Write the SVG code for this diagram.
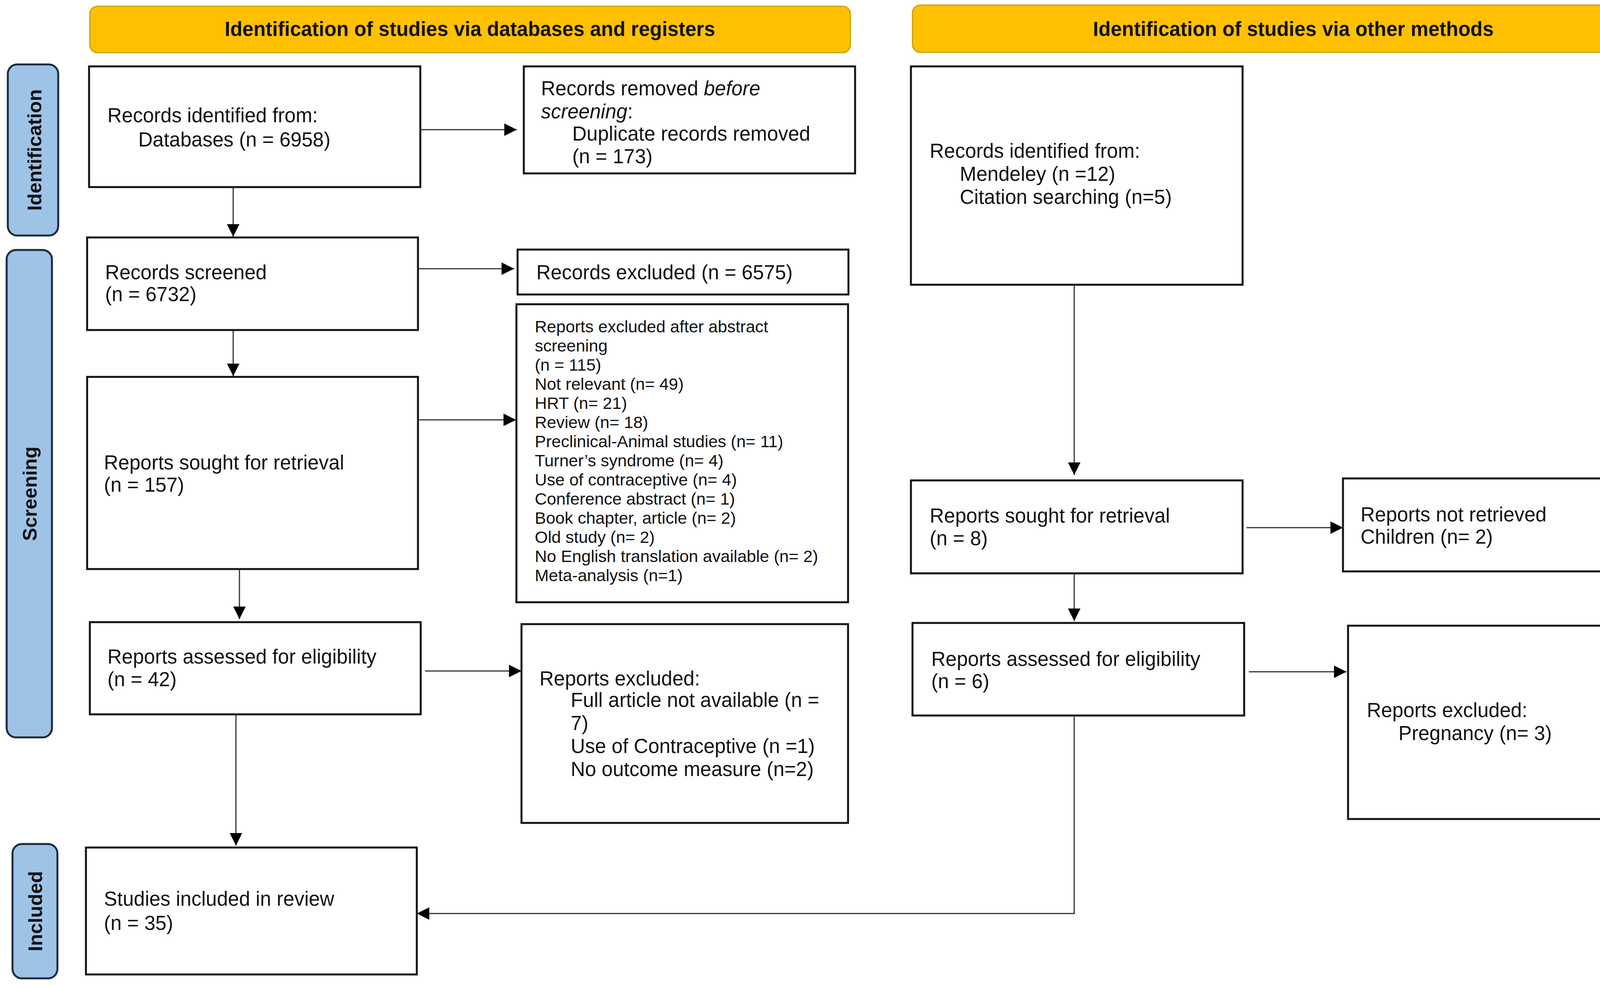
<svg xmlns="http://www.w3.org/2000/svg" width="4317" height="2522" viewBox="0 0 4317 2522">
<style>
.bx{fill:#fff;stroke:#111;stroke-width:5}
.hd{fill:#FFC000;stroke:#C9A000;stroke-width:3}
.sb{fill:#9DC3E6;stroke:#1F2A3A;stroke-width:5}
.t{font-family:"Liberation Sans",Arial,sans-serif;font-size:51px;fill:#111}
.ts{font-family:"Liberation Sans",Arial,sans-serif;font-size:43px;fill:#111}
.th{font-family:"Liberation Sans",Arial,sans-serif;font-size:51px;font-weight:bold;fill:#111;text-anchor:middle}
.tv{font-family:"Liberation Sans",Arial,sans-serif;font-size:50px;font-weight:bold;fill:#111;text-anchor:middle}
.c{fill:none;stroke:#333;stroke-width:3}
</style>
<defs>
<marker id="ah" markerUnits="userSpaceOnUse" markerWidth="32" markerHeight="32" refX="32" refY="16" orient="auto">
<path d="M0,0 L32,16 L0,32 Z" fill="#000"/>
</marker>
</defs>
<rect width="4317" height="2522" fill="#fff"/>

<g id="header-databases">
<rect class="hd" x="230" y="16" width="1947" height="119" rx="20"/>
<text class="th" x="1203" y="92">Identification of studies via databases and registers</text>
</g>
<g id="header-other">
<rect class="hd" x="2336" y="13" width="1951" height="121" rx="20"/>
<text class="th" x="3311" y="92">Identification of studies via other methods</text>
</g>

<g id="side-identification">
<rect class="sb" x="20" y="165" width="129" height="438" rx="24"/>
<text class="tv" transform="translate(88,384) rotate(-90)" y="18">Identification</text>
</g>
<g id="side-screening">
<rect class="sb" x="17" y="640" width="116" height="1248" rx="24"/>
<text class="tv" transform="translate(76,1264) rotate(-90)" y="18">Screening</text>
</g>
<g id="side-included">
<rect class="sb" x="32" y="2161" width="115" height="344" rx="24"/>
<text class="tv" transform="translate(90,2333) rotate(-90)" y="18">Included</text>
</g>

<g id="connectors">
<line class="c" x1="1076" y1="332" x2="1323" y2="332" marker-end="url(#ah)"/>
<line class="c" x1="597" y1="479" x2="597" y2="606" marker-end="url(#ah)"/>
<line class="c" x1="1068" y1="688" x2="1316" y2="688" marker-end="url(#ah)"/>
<line class="c" x1="597" y1="845" x2="597" y2="963" marker-end="url(#ah)"/>
<line class="c" x1="1073" y1="1075" x2="1321" y2="1075" marker-end="url(#ah)"/>
<line class="c" x1="613" y1="1457" x2="613" y2="1585" marker-end="url(#ah)"/>
<line class="c" x1="1088" y1="1718" x2="1335" y2="1718" marker-end="url(#ah)"/>
<line class="c" x1="604" y1="1829" x2="604" y2="2165" marker-end="url(#ah)"/>
<line class="c" x1="2750" y1="729" x2="2750" y2="1216" marker-end="url(#ah)"/>
<line class="c" x1="3191" y1="1351" x2="3438" y2="1351" marker-end="url(#ah)"/>
<line class="c" x1="2750" y1="1468" x2="2750" y2="1590" marker-end="url(#ah)"/>
<line class="c" x1="3197" y1="1720" x2="3447" y2="1720" marker-end="url(#ah)"/>
<path class="c" d="M2750,1832 V2339 H1067" marker-end="url(#ah)"/>
</g>

<g id="records-identified">
<rect class="bx" x="228" y="170" width="848" height="309"/>
<text class="t" x="275" y="313">Records identified from:</text>
<text class="t" x="354" y="375">Databases (n = 6958)</text>
</g>
<g id="records-removed">
<rect class="bx" x="1341" y="170" width="848" height="274"/>
<text class="t" x="1385" y="244">Records removed <tspan font-style="italic">before</tspan></text>
<text class="t" x="1385" y="303"><tspan font-style="italic">screening</tspan>:</text>
<text class="t" x="1465" y="360">Duplicate records removed</text>
<text class="t" x="1465" y="418">(n = 173)</text>
</g>
<g id="other-identified">
<rect class="bx" x="2332" y="170" width="849" height="559"/>
<text class="t" x="2380" y="404">Records identified from:</text>
<text class="t" x="2457" y="463">Mendeley (n =12)</text>
<text class="t" x="2457" y="522">Citation searching (n=5)</text>
</g>
<g id="records-screened">
<rect class="bx" x="223" y="608" width="847" height="237"/>
<text class="t" x="269" y="715">Records screened</text>
<text class="t" x="269" y="771">(n = 6732)</text>
</g>
<g id="records-excluded">
<rect class="bx" x="1325" y="639" width="847" height="115"/>
<text class="t" x="1373" y="715">Records excluded (n = 6575)</text>
</g>
<g id="abstract-excluded">
<rect class="bx" x="1322" y="779" width="849" height="763"/>
<text class="ts" x="1369" y="851">Reports excluded after abstract</text>
<text class="ts" x="1369" y="900">screening</text>
<text class="ts" x="1369" y="949">(n = 115)</text>
<text class="ts" x="1369" y="998">Not relevant (n= 49)</text>
<text class="ts" x="1369" y="1047">HRT (n= 21)</text>
<text class="ts" x="1369" y="1096">Review (n= 18)</text>
<text class="ts" x="1369" y="1145">Preclinical-Animal studies (n= 11)</text>
<text class="ts" x="1369" y="1194">Turner’s syndrome (n= 4)</text>
<text class="ts" x="1369" y="1243">Use of contraceptive (n= 4)</text>
<text class="ts" x="1369" y="1292">Conference abstract (n= 1)</text>
<text class="ts" x="1369" y="1341">Book chapter, article (n= 2)</text>
<text class="ts" x="1369" y="1390">Old study (n= 2)</text>
<text class="ts" x="1369" y="1439">No English translation available (n= 2)</text>
<text class="ts" x="1369" y="1488">Meta-analysis (n=1)</text>
</g>
<g id="reports-sought">
<rect class="bx" x="223" y="965" width="847" height="492"/>
<text class="t" x="266" y="1202">Reports sought for retrieval</text>
<text class="t" x="266" y="1259">(n = 157)</text>
</g>
<g id="other-sought">
<rect class="bx" x="2332" y="1230" width="849" height="238"/>
<text class="t" x="2380" y="1338">Reports sought for retrieval</text>
<text class="t" x="2380" y="1396">(n = 8)</text>
</g>
<g id="other-not-retrieved">
<rect class="bx" x="3438" y="1225" width="847" height="238"/>
<text class="t" x="3483" y="1335">Reports not retrieved</text>
<text class="t" x="3483" y="1392">Children (n= 2)</text>
</g>
<g id="reports-assessed">
<rect class="bx" x="230" y="1593" width="847" height="236"/>
<text class="t" x="275" y="1699">Reports assessed for eligibility</text>
<text class="t" x="275" y="1757">(n = 42)</text>
</g>
<g id="reports-excluded">
<rect class="bx" x="1335" y="1598" width="836" height="509"/>
<text class="t" x="1381" y="1755">Reports excluded:</text>
<text class="t" x="1461" y="1810">Full article not available (n =</text>
<text class="t" x="1461" y="1869">7)</text>
<text class="t" x="1461" y="1928">Use of Contraceptive (n =1)</text>
<text class="t" x="1461" y="1987">No outcome measure (n=2)</text>
</g>
<g id="other-assessed">
<rect class="bx" x="2336" y="1595" width="849" height="237"/>
<text class="t" x="2384" y="1705">Reports assessed for eligibility</text>
<text class="t" x="2384" y="1762">(n = 6)</text>
</g>
<g id="other-excluded">
<rect class="bx" x="3451" y="1602" width="847" height="495"/>
<text class="t" x="3499" y="1836">Reports excluded:</text>
<text class="t" x="3580" y="1895">Pregnancy (n= 3)</text>
</g>
<g id="studies-included">
<rect class="bx" x="220" y="2170" width="847" height="325"/>
<text class="t" x="266" y="2319">Studies included in review</text>
<text class="t" x="266" y="2381">(n = 35)</text>
</g>
</svg>
